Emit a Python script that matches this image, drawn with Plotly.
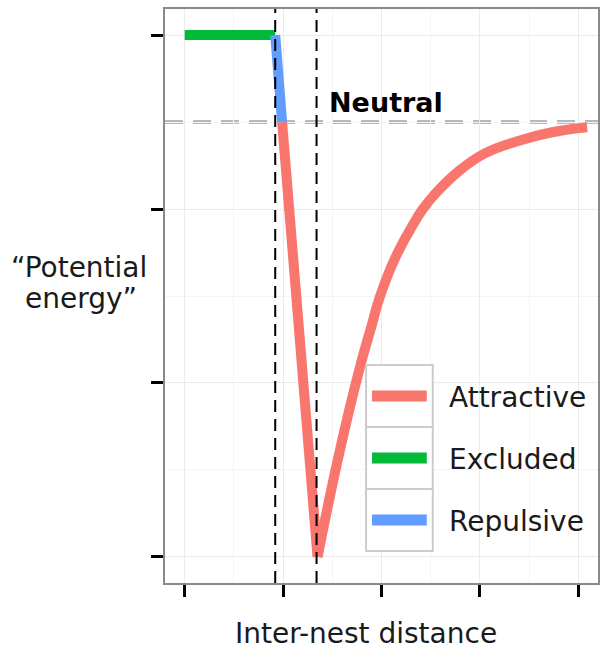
import plotly.graph_objects as go

# ---- data ----
excluded_x = [0.0, 0.92]
excluded_y = [3.0, 3.0]
repulsive_x = [0.92, 0.99]
repulsive_y = [3.0, 2.5]
attractive_x = [0.99, 1.35, 1.58, 1.79, 1.90, 1.98, 2.14, 2.32, 2.42, 2.55, 2.79, 3.05, 3.38, 3.72, 4.09]
attractive_y = [2.5, 0.0, 0.62, 1.11, 1.33, 1.49, 1.72, 1.91, 2.00, 2.09, 2.22, 2.32, 2.39, 2.44, 2.47]
neutral_level = 2.5
boundary_x = [0.92, 1.34]
legend_labels = ["Attractive", "Excluded", "Repulsive"]
x_ticks = [0, 1, 2, 3, 4]
y_ticks = [0, 1, 2, 3]

COLORS = {"Attractive": "#F8766D", "Excluded": "#00BA38", "Repulsive": "#619CFF"}
FONT = "DejaVu Sans"
LW = 10

W, H = 602, 651
L, R, T, B = 165, 2, 9, 68
PW, PH = W - L - R, H - T - B


def px(x):
    return (x - L) / PW


def py(y):
    return (H - B - y) / PH


fig = go.Figure()

# red: straight fall into the well, then curved recovery
imin = attractive_y.index(min(attractive_y))
fig.add_trace(go.Scatter(x=attractive_x[:imin + 1], y=attractive_y[:imin + 1], mode="lines",
                         line=dict(color=COLORS["Attractive"], width=LW), showlegend=False,
                         hoverinfo="skip"))
fig.add_trace(go.Scatter(x=attractive_x[imin:], y=attractive_y[imin:], mode="lines",
                         line=dict(color=COLORS["Attractive"], width=LW, shape="spline", smoothing=1.3),
                         showlegend=False, hoverinfo="skip"))
fig.add_trace(go.Scatter(x=excluded_x, y=excluded_y, mode="lines",
                         line=dict(color=COLORS["Excluded"], width=LW), showlegend=False,
                         hoverinfo="skip"))
fig.add_trace(go.Scatter(x=repulsive_x, y=repulsive_y, mode="lines",
                         line=dict(color=COLORS["Repulsive"], width=LW), showlegend=False,
                         hoverinfo="skip"))

shapes = []
# neutral line
shapes.append(dict(type="line", xref="paper", x0=0, x1=1, yref="y", y0=neutral_level, y1=neutral_level,
                   line=dict(color="#b8b8b8", width=4, dash="18px,10px"), layer="below"))
# boundaries
for bx in boundary_x:
    shapes.append(dict(type="line", xref="x", x0=bx, x1=bx, yref="paper", y0=0, y1=1,
                       line=dict(color="black", width=2, dash="12px,7px"), layer="above"))

# custom legend (ggplot style keys)
key_left, key_right = 367, 434
key_tops = [365, 427, 489]
key_h = 62
annotations = []
for lab, top in zip(legend_labels, key_tops):
    shapes.append(dict(type="rect", xref="paper", yref="paper",
                       x0=px(key_left), x1=px(key_right), y0=py(top + key_h), y1=py(top),
                       fillcolor="white", line=dict(color="#cccccc", width=2), layer="above"))
    cy = top + key_h / 2
    shapes.append(dict(type="line", xref="paper", yref="paper",
                       x0=px(373), x1=px(428), y0=py(cy), y1=py(cy),
                       line=dict(color=COLORS[lab], width=LW + 1), layer="above"))
    annotations.append(dict(text=lab, xref="paper", yref="paper", x=px(448), y=py(cy + 1),
                            xanchor="left", yanchor="middle", showarrow=False,
                            font=dict(family=FONT, size=28, color="#1a1a1a")))

annotations.append(dict(text="<b>Neutral</b>", xref="paper", yref="paper", x=px(387), y=py(103),
                        xanchor="center", yanchor="middle", showarrow=False,
                        font=dict(family=FONT, size=27, color="black")))
annotations.append(dict(text="Inter-nest distance", xref="paper", yref="paper", x=px(367), y=py(633),
                        xanchor="center", yanchor="middle", showarrow=False,
                        font=dict(family=FONT, size=28, color="#1a1a1a")))
annotations.append(dict(text="\u201cPotential", xref="paper", yref="paper", x=px(79), y=py(267),
                        xanchor="center", yanchor="middle", showarrow=False,
                        font=dict(family=FONT, size=28, color="#1a1a1a")))
annotations.append(dict(text="energy\u201d", xref="paper", yref="paper", x=px(81), y=py(298),
                        xanchor="center", yanchor="middle", showarrow=False,
                        font=dict(family=FONT, size=28, color="#1a1a1a")))

axis_common = dict(showline=True, mirror=True, linecolor="#8a8a8a", linewidth=2,
                   showgrid=True, gridcolor="#ebebeb", gridwidth=1, zeroline=False,
                   ticks="outside", tickcolor="black", tickwidth=2.5,
                   showticklabels=False, fixedrange=True)

fig.update_layout(
    width=W, height=H,
    margin=dict(l=L, r=R, t=T, b=B),
    paper_bgcolor="white", plot_bgcolor="white",
    showlegend=False,
    xaxis=dict(range=[-0.2, 4.2], tickvals=x_ticks, ticklen=12,
               minor=dict(dtick=0.5, tick0=0, showgrid=True, gridcolor="#f4f4f4", ticks=""),
               **axis_common),
    yaxis=dict(range=[-0.15, 3.15], tickvals=y_ticks, ticklen=12,
               minor=dict(dtick=0.5, tick0=0, showgrid=True, gridcolor="#f4f4f4", ticks=""),
               **axis_common),
    shapes=shapes,
    annotations=annotations,
)

fig.write_html("out.html", config={"displayModeBar": False},
               post_script="document.body.style.margin='0';document.body.style.overflow='hidden';")
